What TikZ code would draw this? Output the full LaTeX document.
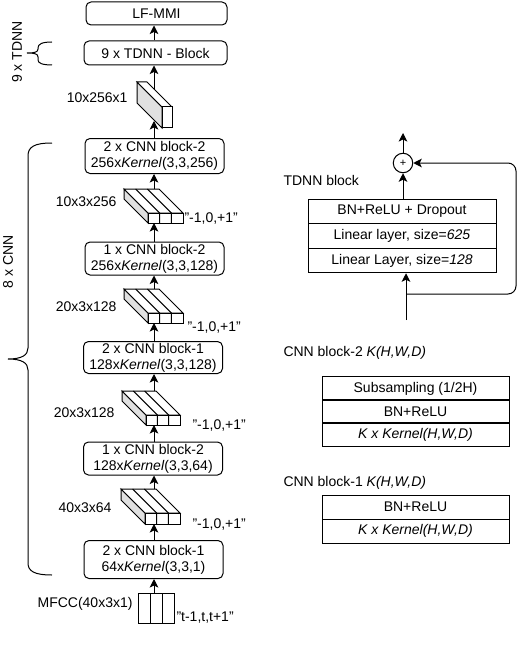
\documentclass[tikz,border=0pt]{standalone}
\usepackage{fontspec}
\setmainfont{Liberation Sans}
\usetikzlibrary{arrows.meta}
\newcommand\mycube[6]{%
  \filldraw[fill=black!12] (#1-#5,#2-#5) -- (#1,#2) -- (#1,#2+#4) -- (#1-#5,#2+#4-#5) -- cycle;
  \filldraw[fill=white] (#1-#5,#2-#5) -- (#1+#3-#5,#2-#5) -- (#1+#3,#2) -- (#1,#2) -- cycle;
  \filldraw[fill=white] (#1,#2) rectangle (#1+#3,#2+#4);
  \ifnum#6>1
    \foreach \k in {1,...,\numexpr#6-1\relax}{%
      \draw (#1+\k*#3/#6-#5,#2-#5) -- (#1+\k*#3/#6,#2) -- (#1+\k*#3/#6,#2+#4);}
  \fi}
\begin{document}
\begin{tikzpicture}[x=1pt,y=-1pt, line width=1pt,
  >={Stealth[length=8.5pt,width=8.5pt,inset=2pt]},
  every node/.style={font=\fontsize{14}{16}\selectfont, inner sep=0pt},
  blk/.style={draw, rounded corners=5pt, minimum width=139pt, align=center},
  row/.style={draw, minimum width=188pt, minimum height=24.5pt},
  rowb/.style={draw, minimum width=187pt, minimum height=23.5pt},
  lbl/.style={anchor=east},
  lblr/.style={anchor=west}]
\useasboundingbox (0,0) rectangle (518,658);

% ---- left column boxes
\node[blk, minimum width=141pt, minimum height=23pt] (lf) at (156.5,13.5) {LF-MMI};
\node[blk, minimum width=143pt, minimum height=24pt] (td) at (155.5,53) {9 x TDNN - Block};
\node[blk, minimum height=35pt] (b1) at (154.5,156) {2 x CNN block-2\\256x\textit{Kernel}(3,3,256)};
\node[blk, minimum height=33pt] (b2) at (154.5,258.5) {1 x CNN block-2\\256x\textit{Kernel}(3,3,128)};
\node[blk, minimum height=32pt] (b3) at (153,357.5) {2 x CNN block-1\\128x\textit{Kernel}(3,3,128)};
\node[blk, minimum height=33pt] (b4) at (153,458.5) {1 x CNN block-2\\128x\textit{Kernel}(3,3,64)};
\node[blk, minimum height=38pt] (b5) at (153.5,559.5) {2 x CNN block-1\\64x\textit{Kernel}(3,3,1)};

% ---- cuboids
\mycube{162}{107}{10}{21}{25}{1}
\mycube{148}{213}{35}{10}{24}{3}
\mycube{148}{313}{35}{10}{24}{3}
\mycube{146}{415}{34}{10}{24}{3}
\mycube{145}{513}{35}{11}{24}{3}
% MFCC input
\draw (138,593) rectangle (174,623);
\draw (150,593) -- (150,623) (162,593) -- (162,623);

\coordinate (c0t) at (154,89);  \coordinate (c0b) at (154,121);
\coordinate (c1t) at (154,189); \coordinate (c1b) at (154,223);
\coordinate (c2t) at (154,289); \coordinate (c2b) at (154,323);
\coordinate (c3t) at (154,391); \coordinate (c3b) at (154,425);
\coordinate (c4t) at (154,489); \coordinate (c4b) at (154,524);
\coordinate (mt) at (154,593);

% ---- arrows
\draw[->] (td.north -| c0t) -- (c0t |- lf.south);
\draw[->] (c0t) -- (c0t |- td.south);
\draw[->] (c0t |- b1.north) -- (c0b);
\draw[->] (c1t) -- (c1t |- b1.south);
\draw[->] (c1t |- b2.north) -- (c1b);
\draw[->] (c2t) -- (c2t |- b2.south);
\draw[->] (c2t |- b3.north) -- (c2b);
\draw[->] (c3t) -- (c3t |- b3.south);
\draw[->] (c3t |- b4.north) -- (c3b);
\draw[->] (c4t) -- (c4t |- b4.south);
\draw[->] (c4t |- b5.north) -- (c4b);
\draw[->] (mt) -- (mt |- b5.south);

% ---- labels
\node[lbl] (l0) at (128,98) {10x256x1};
\node[lbl] (l1) at (117,202) {10x3x256};
\node[lblr] (r1) at (184,219) {"-1,0,+1"};
\node[lbl] (l2) at (117,307) {20x3x128};
\node[lblr] (r2) at (187,328) {"-1,0,+1"};
\node[lbl] (l3) at (115,413) {20x3x128};
\node[lblr] (r3) at (192,426) {"-1,0,+1"};
\node[lbl] (l4) at (112,508) {40x3x64};
\node[lblr] (r4) at (192,525) {"-1,0,+1"};
\node[lbl] (l5) at (133,604) {MFCC(40x3x1)};
\node[lblr] (r5) at (176,618) {"t-1,t,t+1"};

% ---- braces
\draw (52,42) .. controls (42,42) and (38,44) .. (38,48) -- (38,49)
  .. controls (38,52) and (35,53) .. (27,53)
  .. controls (35,53) and (38,54) .. (38,57) -- (38,60)
  .. controls (38,63) and (42,65) .. (52,65);
\node[rotate=90] (t9) at (17,52) {9 x TDNN};
\draw (52,143) .. controls (34,143) and (28,147) .. (28,156) -- (28,348)
  .. controls (28,355) and (22,359) .. (8,359)
  .. controls (22,359) and (28,363) .. (28,370) -- (28,563)
  .. controls (28,571) and (34,575) .. (52,575);
\node[rotate=90] (t8) at (8,262) {8 x CNN};

% ---- TDNN block
\node[lblr] (tdl) at (283,180) {TDNN block};
\node[row] (tr1) at (402,211.5) {BN+ReLU + Dropout};
\node[row] (tr2) at (402,236) {Linear layer, size=\textit{625}};
\node[row] (tr3) at (402,260.5) {Linear Layer, size=\textit{128}};
\node[draw, circle, minimum size=19.5pt, font=\fontsize{11}{12}\selectfont] (pl) at (403,163) {+};
\coordinate (top) at (403,133);
\coordinate (inp) at (406,320);
\coordinate (br) at (406,294);
\draw[->] (pl) -- (top);
\draw[->] (pl |- tr1.north) -- (pl);
\draw[->] (inp) -- (inp |- tr3.south);
\draw[->, rounded corners=8pt] (br) -- (516,294) -- (516,163) -- (pl.east);

% ---- CNN block-2
\node[lblr] (c2l) at (283,353) {CNN block-2 \textit{K(H,W,D)}};
\node[rowb] (s1) at (415.5,388.5) {Subsampling (1/2H)};
\node[rowb] (s2) at (415.5,411.5) {BN+ReLU};
\node[rowb] (s3) at (415.5,434.5) {\textit{K x Kernel(H,W,D)}};

% ---- CNN block-1
\node[lblr] (c1l) at (283,483) {CNN block-1 \textit{K(H,W,D)}};
\node[rowb, minimum height=24pt] (q1) at (415.5,507) {BN+ReLU};
\node[rowb, minimum height=24pt] (q2) at (415.5,531) {\textit{K x Kernel(H,W,D)}};
\end{tikzpicture}
\end{document}
